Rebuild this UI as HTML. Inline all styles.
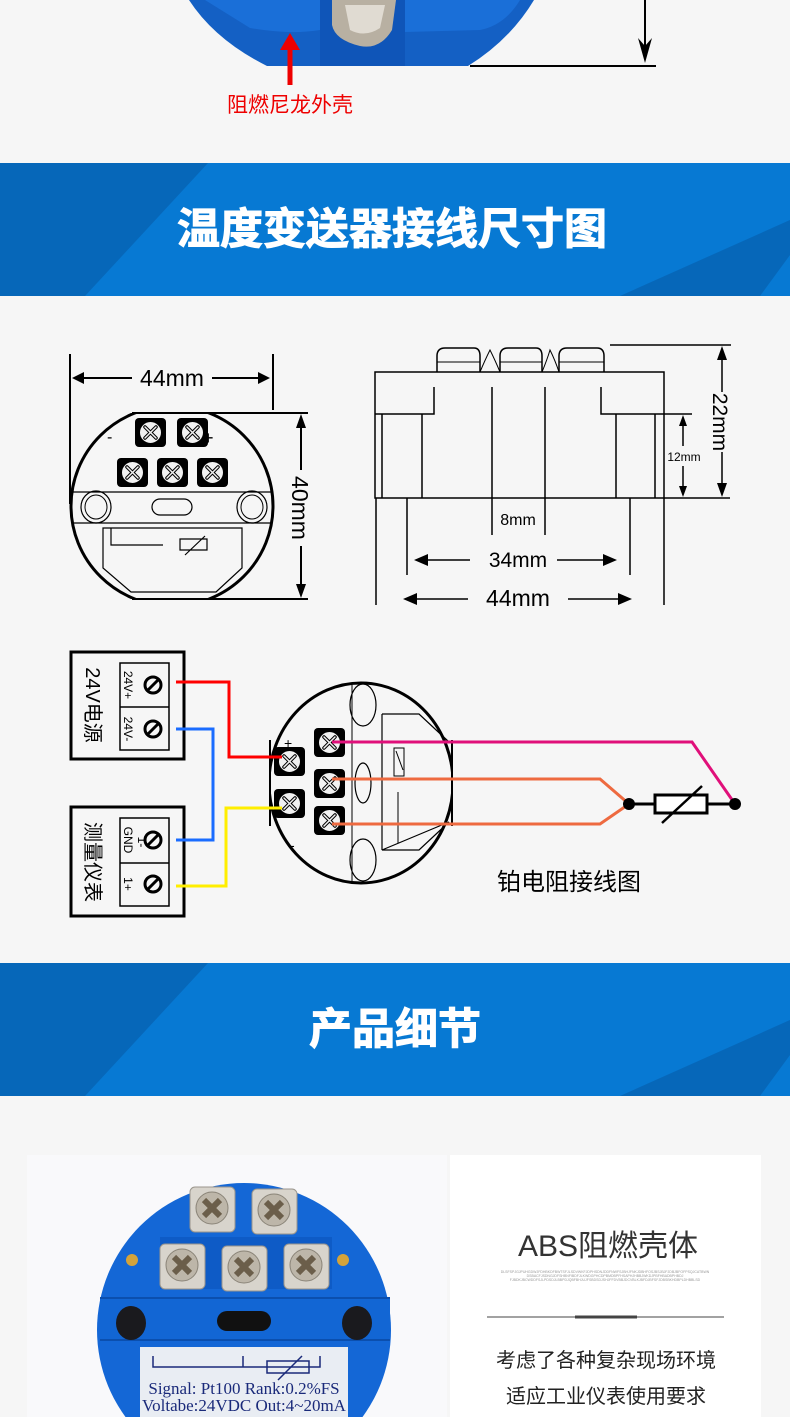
<!DOCTYPE html>
<html><head><meta charset="utf-8"><style>
html,body{margin:0;padding:0;background:#f6f6f6;}
svg{display:block;}
text{font-family:"Liberation Sans","Noto Sans CJK SC",sans-serif;}
text.serif{font-family:"Liberation Serif","Noto Serif CJK SC",serif;}
</style></head><body>
<svg width="790" height="1417" viewBox="0 0 790 1417" xmlns="http://www.w3.org/2000/svg">
<defs>
<clipPath id="c1"><rect x="60" y="413" width="260" height="186"/></clipPath>
<clipPath id="c2"><rect x="270" y="600" width="183" height="400"/></clipPath>
<clipPath id="c3"><rect x="60" y="1183" width="400" height="240"/></clipPath>
<g id="scr"><rect x="0" y="0" width="31" height="29" rx="4" fill="#000"/><circle cx="15.5" cy="14.5" r="11" fill="#f2f2f2" stroke="#000" stroke-width="1"/><path d="M10 9 L21 20 M21 9 L10 20" stroke="#000" stroke-width="3.5" stroke-linecap="round"/><path d="M10 9 L21 20 M21 9 L10 20" stroke="#f2f2f2" stroke-width="1.5" stroke-linecap="round"/></g>
<g id="ms"><rect x="0" y="0" width="45" height="45" rx="5" fill="#d8d4cc" stroke="#9a958c"/><circle cx="22" cy="21" r="16" fill="#bdb6a9" stroke="#8a8478"/><path d="M14 13 L30 29 M30 13 L14 29" stroke="#6b5e4a" stroke-width="6"/></g>
</defs>
<rect width="790" height="1417" fill="#f6f6f6"/>
<!-- top device fragment -->
<path d="M189 0 L534 0 Q510 40 468 66 L267 66 Q215 40 189 0 Z" fill="#1460c4"/>
<path d="M205 0 L320 0 L320 30 Q290 35 250 28 Z" fill="#1a6fd8"/>
<path d="M405 0 L520 0 Q505 25 480 30 L405 32 Z" fill="#1a6fd8"/>
<rect x="320" y="0" width="85" height="66" fill="#0f55b8"/>
<path d="M332 0 L396 0 L392 30 Q380 50 360 46 Q335 40 332 25 Z" fill="#b8b0a2"/>
<path d="M345 5 L385 5 L380 28 Q365 38 350 30 Z" fill="#e0dbd2"/>
<path d="M290 85 L290 45" stroke="#ee0000" stroke-width="5"/>
<path d="M280 50 L290 33 L300 50 Z" fill="#ee0000"/>
<text x="290" y="112" font-size="21" fill="#ee0000" text-anchor="middle">阻燃尼龙外壳</text>
<path d="M645 0 L645 55" stroke="#000" stroke-width="2"/>
<path d="M638 38 L645 63 L652 38 L645 46 Z" fill="#000"/>
<path d="M470 66 L656 66" stroke="#000" stroke-width="2"/>
<!-- banner 1 -->
<rect x="0" y="163" width="790" height="133" fill="#0779d3"/>
<path d="M0 163 L208 163 L85 296 L0 296 Z" fill="#0667b9"/>
<path d="M620 296 L790 220 L790 296 Z" fill="#0667b9"/>
<path d="M760 296 L790 255 L790 296 Z" fill="#0779d3"/>
<text x="392" y="244" font-size="43" font-weight="bold" fill="#fff" text-anchor="middle" stroke="#fff" stroke-width="1">温度变送器接线尺寸图</text>
<!-- left dimension view -->
<g stroke="#000" fill="none" stroke-width="2">
<path d="M70 354 L70 504 M273 354 L273 410"/>
<path d="M80 378 L132 378 M212 378 L262 378"/>
<ellipse cx="172" cy="506" rx="101" ry="100" clip-path="url(#c1)" stroke-width="3"/>
<path d="M132 413 L308 413 M132 599 L308 599"/>
<path d="M301 425 L301 470 M301 546 L301 588"/>
<path d="M71 492 L273 492 M72 523 L272 523" stroke-width="1.2"/>
<ellipse cx="96" cy="507" rx="15" ry="16" stroke-width="1.2"/><ellipse cx="96" cy="507" rx="11" ry="12" stroke-width="1"/>
<ellipse cx="252" cy="507" rx="15" ry="16" stroke-width="1.2"/><ellipse cx="252" cy="507" rx="11" ry="12" stroke-width="1"/>
<rect x="152" y="499" width="40" height="16" rx="8" stroke-width="1.2"/>
<path d="M103 528 L242 528 L242 568 L216 592 L131 592 L103 568 Z" stroke-width="1.2"/>
<path d="M111 528 L111 545 L163 545 M180 539 L207 539 L207 550 L180 550 Z M185 555 L205 536" stroke-width="1.2"/>
</g>
<path d="M72 378 L84 372 L84 384 Z M270 378 L258 372 L258 384 Z M301 414 L296 428 L306 428 Z M301 598 L296 584 L306 584 Z" fill="#000"/>
<text x="172" y="386" font-size="23" text-anchor="middle">44mm</text>
<text transform="translate(292,508) rotate(90)" font-size="23" text-anchor="middle">40mm</text>
<text x="107" y="442" font-size="16">-</text><text x="203" y="444" font-size="18">+</text>
<use href="#scr" x="135" y="418"/><use href="#scr" x="177" y="418"/>
<use href="#scr" x="117" y="458"/><use href="#scr" x="157" y="458"/><use href="#scr" x="197" y="458"/>
<!-- right dimension view -->
<g stroke="#000" fill="none" stroke-width="1.5">
<path d="M375 498 L375 372 L664 372 L664 498 Z"/>
<path d="M437 372 L437 356 Q437 348 445 348 L474 348 Q480 348 480 356 L480 372 M500 372 L500 356 Q500 348 508 348 L536 348 Q542 348 542 356 L542 372 M559 372 L559 356 Q559 348 567 348 L597 348 Q604 348 604 356 L604 372"/>
<path d="M480 372 Q485 360 490 350 Q495 360 500 372 M542 372 Q547 360 550 350 Q555 360 559 372" stroke-width="1"/>
<path d="M437 362 L480 362 M500 362 L542 362 M559 362 L604 362" stroke-width="1"/>
<path d="M375 414 L434 414 L434 387 M664 414 L601 414 L601 387"/>
<path d="M492 387 L492 535 M545 387 L545 535"/>
<path d="M382 414 L382 498 M422 414 L422 498 M616 414 L616 498 M655 414 L655 498"/>
<path d="M376 498 L376 605 M664 498 L664 605 M407 498 L407 575 M630 498 L630 575"/>
<path d="M610 345 L731 345 M664 498 L730 498 M664 414 L692 414"/>
<path d="M722 350 L722 392 M722 452 L722 493 M683 418 L683 446 M683 466 L683 494"/>
<path d="M420 560 L470 560 M557 560 L612 560 M410 599 L468 599 M568 599 L625 599"/>
</g>
<path d="M414 560 L428 554 L428 566 Z M617 560 L603 554 L603 566 Z M403 599 L417 593 L417 605 Z M632 599 L618 593 L618 605 Z M722 346 L717 360 L727 360 Z M722 497 L717 483 L727 483 Z M683 415 L679 426 L687 426 Z M683 497 L679 486 L687 486 Z" fill="#000"/>
<text x="518" y="525" font-size="16" text-anchor="middle">8mm</text>
<text x="518" y="567" font-size="21" text-anchor="middle">34mm</text>
<text x="518" y="606" font-size="23" text-anchor="middle">44mm</text>
<text transform="translate(713,422) rotate(90)" font-size="21" text-anchor="middle">22mm</text>
<text x="684" y="461" font-size="12" text-anchor="middle">12mm</text>
<!-- wiring diagram -->
<g stroke="#000" fill="none">
<rect x="71" y="652" width="113" height="107" stroke-width="3"/>
<path d="M120 663 L169 663 L169 750 L120 750 Z M120 707 L169 707" stroke-width="1.5"/>
<rect x="71" y="807" width="113" height="109" stroke-width="3"/>
<path d="M120 818 L169 818 L169 906 L120 906 Z M120 863 L169 863" stroke-width="1.5"/>
</g>
<g fill="none" stroke="#000" stroke-width="3">
<circle cx="153" cy="685" r="8"/><circle cx="153" cy="729" r="8"/><circle cx="153" cy="840" r="8"/><circle cx="153" cy="884" r="8"/>
</g>
<path d="M147 691 L159 679 M147 735 L159 723 M147 846 L159 834 M147 890 L159 878" stroke="#000" stroke-width="3"/>
<text transform="translate(124,685) rotate(90)" font-size="12" text-anchor="middle">24V+</text>
<text transform="translate(124,729) rotate(90)" font-size="12" text-anchor="middle">24V-</text>
<text transform="translate(124,840) rotate(90)" font-size="12" text-anchor="middle">GND</text>
<text transform="translate(138,842) rotate(90)" font-size="12" text-anchor="middle">1-</text>
<text transform="translate(124,884) rotate(90)" font-size="12" text-anchor="middle">1+</text>
<text transform="translate(86,705) rotate(90)" font-size="20" text-anchor="middle">24V电源</text>
<text transform="translate(86,862) rotate(90)" font-size="20" text-anchor="middle">测量仪表</text>
<!-- transmitter -->
<g stroke="#000" fill="none">
<ellipse cx="361" cy="783" rx="92" ry="100" stroke-width="3" clip-path="url(#c2)"/>
<path d="M270 740 L270 826 M452 740 L452 826" stroke-width="2"/>
<path d="M352 684 L352 882" stroke-width="1"/>
<ellipse cx="363" cy="705" rx="13" ry="21" stroke-width="1.2"/>
<ellipse cx="363" cy="860" rx="13" ry="21" stroke-width="1.2"/>
<ellipse cx="363" cy="783" rx="8" ry="20" stroke-width="1.2"/>
<path d="M382 714 L419 714 L449 742 M449 822 L419 850 L382 850 Z M382 714 L382 850" stroke-width="1.2"/>
<rect x="394" y="748" width="10" height="28" stroke-width="1"/>
<path d="M396 751 L403 770 M398 792 L398 843" stroke-width="1"/>
</g>
<use href="#scr" x="274" y="747"/><use href="#scr" x="274" y="789"/>
<use href="#scr" x="314" y="728"/><use href="#scr" x="314" y="769"/><use href="#scr" x="314" y="806"/>
<text x="284" y="748" font-size="14">+</text><text x="290" y="850" font-size="14">-</text>
<g fill="none" stroke-width="3">
<path d="M176 682 L229 682 L229 757 L282 757" stroke="#ff0000"/>
<path d="M176 729 L213 729 L213 840 L176 840" stroke="#1a6cff"/>
<path d="M176 886 L226 886 L226 808 L282 808" stroke="#ffee00"/>
<path d="M332 742 L692 742 L735 804" stroke="#e0107a"/>
<path d="M332 779 L600 779 L629 804 L600 824 L332 824" stroke="#ee6a40"/>
<path d="M629 804 L735 804" stroke="#000"/>
</g>
<circle cx="629" cy="804" r="6" fill="#000"/><circle cx="735" cy="804" r="6" fill="#000"/>
<rect x="655" y="795" width="52" height="18" fill="#fff" stroke="#000" stroke-width="3"/>
<path d="M662 823 L702 786" stroke="#000" stroke-width="2.5"/>
<text x="569" y="890" font-size="24" text-anchor="middle">铂电阻接线图</text>
<!-- banner 2 -->
<rect x="0" y="963" width="790" height="133" fill="#0779d3"/>
<path d="M0 963 L208 963 L85 1096 L0 1096 Z" fill="#0667b9"/>
<path d="M620 1096 L790 1020 L790 1096 Z" fill="#0667b9"/>
<path d="M760 1096 L790 1055 L790 1096 Z" fill="#0779d3"/>
<text x="395" y="1044" font-size="43" font-weight="bold" fill="#fff" text-anchor="middle" stroke="#fff" stroke-width="1">产品细节</text>
<!-- bottom photo -->
<rect x="27" y="1155" width="420" height="262" fill="#f9f9fb"/>
<circle cx="244" cy="1330" r="147" fill="#1467d6" clip-path="url(#c3)"/>
<rect x="160" y="1237" width="172" height="52" fill="#0e5bc6"/>
<rect x="100" y="1298" width="290" height="42" fill="#1266d4"/>
<path d="M100 1298 L390 1298 M100 1340 L390 1340" stroke="#0b4fae" stroke-width="2"/>
<ellipse cx="131" cy="1323" rx="15" ry="17" fill="#1a1a1e"/>
<ellipse cx="357" cy="1323" rx="15" ry="17" fill="#1a1a1e"/>
<rect x="217" y="1311" width="54" height="20" rx="10" fill="#111"/>
<circle cx="132" cy="1260" r="6" fill="#d4a33a"/><circle cx="343" cy="1260" r="6" fill="#d4a33a"/>
<use href="#ms" x="190" y="1187"/><use href="#ms" x="252" y="1189"/>
<use href="#ms" x="160" y="1244"/><use href="#ms" x="222" y="1246"/><use href="#ms" x="284" y="1244"/>
<rect x="140" y="1347" width="208" height="75" fill="#e9edf3"/>
<path d="M153 1356 L153 1367 L320 1367 L320 1356 M243 1356 L243 1367" stroke="#1a2a7a" stroke-width="1.5" fill="none"/>
<rect x="267" y="1361" width="42" height="12" fill="none" stroke="#1a2a7a" stroke-width="1.5"/>
<path d="M278 1380 L302 1356" stroke="#1a2a7a" stroke-width="1.5"/>
<text class="serif" x="244" y="1394" font-size="17" fill="#1a2a7a" text-anchor="middle">Signal: Pt100 Rank:0.2%FS</text>
<text class="serif" x="244" y="1411" font-size="17" fill="#1a2a7a" text-anchor="middle">Voltabe:24VDC Out:4~20mA</text>
<!-- right card -->
<rect x="450" y="1155" width="311" height="262" fill="#fff"/>
<text x="608" y="1256" font-size="30" fill="#333" text-anchor="middle">ABS阻燃壳体</text>
<g font-size="3.5" fill="#999" text-anchor="middle">
<text x="605" y="1273">DLSFSPJGJPUHGDWJFDHBKDFBWTSFJLSDVWKFJDPHSDNJDDFNWFSJBHJFNKJDBHFOSJBSJBJFJDBJBFOFPSQJCATBWN</text>
<text x="605" y="1277">DSBACFJSDNGJDFSHBNFIBDFJLKWDGPHCDPBMDBPFHSAPHJHBBJWKDJPBFHBADBPHBDJ</text>
<text x="605" y="1281">FJBDKJBCWDDFSJLPDSDJLBBPDJQBFBHJUJFSBDSDJSHJFFDVBBJDCVBLKJBFDJBFSFJDBSBKHDBPLDHBBLSD</text>
</g>
<path d="M487 1317 L724 1317" stroke="#444" stroke-width="1"/>
<path d="M575 1317 L637 1317" stroke="#444" stroke-width="3"/>
<text x="606" y="1367" font-size="20" fill="#222" text-anchor="middle">考虑了各种复杂现场环境</text>
<text x="606" y="1403" font-size="20" fill="#222" text-anchor="middle">适应工业仪表使用要求</text>
</svg>
</body></html>
